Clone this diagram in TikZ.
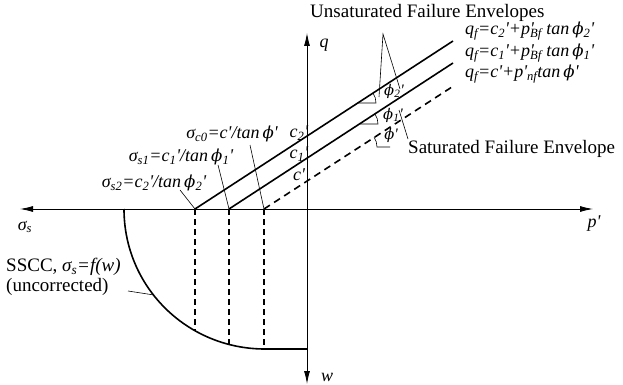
\documentclass[tikz,border=0pt]{standalone}
\usepackage{fontspec}
\setmainfont{Liberation Serif}
\newfontfamily\phifont[Scale=0.92]{DejaVu Serif}
\usetikzlibrary{arrows.meta,calc}
\newcommand\pr{\textquotesingle}
\newcommand\Lo[1]{\textsubscript{#1}}
\newcommand\PrLo[1]{\rlap{\pr}\textsubscript{#1}}
\newcommand\myphi{{\phifont\itshape ϕ}}
\begin{document}
\begin{tikzpicture}[x=1pt,y=-1pt,
  axis/.style={line width=0.8pt,{Latex[length=13pt,width=6pt]}-{Latex[length=13pt,width=6pt]}},
  env/.style={line width=1.6pt},
  envd/.style={line width=1.6pt,dash pattern=on 7pt off 5pt},
  drop/.style={line width=1.3pt,dash pattern=on 6pt off 4pt},
  lead/.style={line width=0.6pt},
  angl/.style={line width=0.6pt},
  txt/.style={inner sep=0pt,font=\fontsize{19}{22}\selectfont},
  mth/.style={inner sep=0pt,font=\fontsize{18}{20}\selectfont\itshape},
  eq/.style={mth,text height=10pt,text depth=4pt},
  ang/.style={inner sep=0pt,font=\fontsize{16}{18}\selectfont\itshape}]
\useasboundingbox (0,0) rectangle (623,385);

% axes
\coordinate (L) at (20,209);
\coordinate (R) at (593,209);
\coordinate (T) at (307,33);
\coordinate (B) at (307,384);
\draw[axis] (L) -- (R);
\draw[axis] (B) -- (T);

% key points
\coordinate (S2) at (195,209);
\coordinate (S1) at (229,209);
\coordinate (S0) at (264,209);
\coordinate (E2) at (453,41);
\coordinate (E1) at (453,63);
\coordinate (E0) at (455,85);
\coordinate (Cs) at (124,209);
\coordinate (Ce) at (265,349);
\coordinate (Ve) at (307,349);
\coordinate (D2) at (195,331);
\coordinate (D1) at (229,345);
\coordinate (D0) at (264,349);

% envelopes
\draw[env] (S2) -- (E2);
\draw[env] (S1) -- (E1);
\draw[envd] (S0) -- (E0);

% SSCC
\draw[env] (Cs) .. controls (124,287) and (187,349) .. (Ce) -- (Ve);
\draw[drop] (S2) -- (D2);
\draw[drop] (S1) -- (D1);
\draw[drop] (S0) -- (D0);

% angle markers
\coordinate (P2) at (358,103);
\coordinate (P1) at (360,124);
\coordinate (P0) at (359,147);
\draw[angl] (P2) -- ++(18,0) .. controls +(0,-3.5) and +(1.9,2.9) .. ($(P2)+(15.1,-9.8)$);
\draw[angl] (P1) -- ++(18,0) .. controls +(0,-3.5) and +(1.9,2.9) .. ($(P1)+(15.1,-9.8)$);
\draw[angl] ($(P0)+(31,0)$) -- ($(P0)+(18,0)$) .. controls +(0,-3.5) and +(1.9,2.9) .. ($(P0)+(15.1,-9.8)$);

% labels
\node[txt,anchor=base west,text height=12pt,text depth=2pt] (unsat) at (310,18) {Unsaturated Failure Envelopes};
\node[txt,anchor=base west] (sat) at (408,153) {Saturated Failure Envelope};
\node[eq,anchor=base west] (q2) at (465,35) {q\Lo{f}=c\Lo{2}\pr+p\PrLo{Bf} tan\,\myphi\Lo{2}\pr};
\node[eq,anchor=base west] (q1) at (465,57) {q\Lo{f}=c\Lo{1}\pr+p\PrLo{Bf} tan\,\myphi\Lo{1}\pr};
\node[eq,anchor=base west] (q0) at (465,78) {q\Lo{f}=c\pr+p\pr\Lo{nf}tan\,\myphi\pr};

\node[mth] (sc0) at (232,134) {σ\Lo{c0}=c\pr/tan\,\myphi\pr};
\node[mth] (ss1) at (181,157) {σ\Lo{s1}=c\Lo{1}\pr/tan\,\myphi\Lo{1}\pr};
\node[mth] (ss2) at (154,183) {σ\Lo{s2}=c\Lo{2}\pr/tan\,\myphi\Lo{2}\pr};

\node[txt,anchor=west] (sscc) at (6,267) {SSCC, \textit{σ\Lo{s}=f(w)}};
\node[txt,anchor=west] (unc) at (6,287) {(uncorrected)};

\node[mth] (ls) at (25,227) {σ\Lo{s}};
\node[mth] (lp) at (594,224) {p\pr};
\node[mth] (lq) at (324,45) {q};
\node[mth] (lw) at (327,377) {w};

\node[mth] (c2) at (299,133) {c\Lo{2}\pr};
\node[mth] (c1) at (299,154) {c\Lo{1}\pr};
\node[mth] (c0) at (299,175) {c\pr};

\node[ang] (f2) at (394,91) {\myphi\Lo{2}\pr};
\node[ang] (f1) at (393,115) {\myphi\Lo{1}\pr};
\node[ang] (f0) at (391,135) {\myphi\pr};

% leaders
\coordinate (apex) at (383,34);
\coordinate (a1) at (379,97);
\coordinate (a2) at (400,89);
\draw[lead] (a1) -- (apex) -- (a2);
\coordinate (s1) at (399,110);
\coordinate (s2) at (408,139);
\draw[lead] (s1) -- (s2);
\coordinate (l2) at (180,190);
\coordinate (l1) at (218,165);
\coordinate (l0) at (250,145);
\draw[lead] (l2) -- (S2);
\draw[lead] (l1) -- (S1);
\draw[lead] (l0) -- (S0);
\coordinate (m1) at (128,291);
\coordinate (m2) at (154,295);
\draw[lead] (m1) -- (m2);
\end{tikzpicture}
\end{document}
